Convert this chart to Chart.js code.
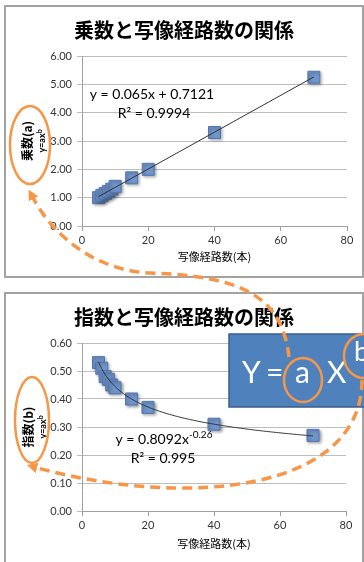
<!DOCTYPE html>
<html>
<head>
<meta charset="utf-8">
<script src="https://cdn.jsdelivr.net/npm/chart.js"></script>
<style>
html, body { margin: 0; padding: 0; background: #fff; }
body { width: 364px; height: 562px; position: relative; overflow: hidden; }
canvas { position: absolute; }
.box { position: absolute; border: 2px solid #a3a3a3; box-sizing: border-box; pointer-events: none; }
#overlay { position: absolute; left: 0; top: 0; }
</style>
</head>
<body>
<canvas id="chartA" width="360" height="273" style="left:4px;top:5px"></canvas>
<div class="box" style="left:4px;top:5px;width:360px;height:273px"></div>
<canvas id="chartB" width="360" height="273" style="left:4px;top:292px"></canvas>
<div class="box" style="left:4px;top:292px;width:360px;height:273px"></div>

<svg id="overlay" width="364" height="562" viewBox="0 0 364 562">
  <defs>
    <marker id="head" viewBox="0 0 10 10" refX="3" refY="5" markerWidth="3" markerHeight="3" orient="auto">
      <path d="M0,0 L10,5 L0,10 z" fill="#f79646"/>
    </marker>
  </defs>
  <!-- formula box -->
  <rect x="229" y="334" width="140" height="73" fill="#4f81bd" stroke="#385d8a" stroke-width="1.5"/>
  <text x="242" y="383" font-family="Lato, sans-serif" font-size="30" fill="#fff">Y</text>
  <text x="266" y="383" font-family="Lato, sans-serif" font-size="30" fill="#fff">=</text>
  <text x="295" y="383" font-family="Lato, sans-serif" font-size="30" fill="#fff">a</text>
  <text x="327" y="383" font-family="Lato, sans-serif" font-size="30" fill="#fff">X</text>
  <text x="354" y="361" font-family="Lato, sans-serif" font-size="27" fill="#fff">b</text>
  <!-- dashed arrows -->
  <path d="M289 357 C282 295 240 276 150 273 C100 271 55 240 32 196" fill="none" stroke="#f79646" stroke-width="3.5" stroke-dasharray="10 6" marker-end="url(#head)"/>
  <path d="M362 380 C362 490 190 510 34 467" fill="none" stroke="#f79646" stroke-width="3.5" stroke-dasharray="10 6" marker-end="url(#head)"/>
  <!-- rings -->
  <ellipse cx="303" cy="380" rx="19" ry="22" fill="none" stroke="#f79646" stroke-width="2.5"/>
  <ellipse cx="364" cy="356" rx="20" ry="22" fill="none" stroke="#f79646" stroke-width="2.5"/>
  <ellipse cx="30" cy="145" rx="20" ry="39" fill="none" stroke="#f79646" stroke-width="2.5"/>
  <ellipse cx="32" cy="420" rx="17" ry="43" fill="none" stroke="#f79646" stroke-width="2.5"/>
</svg>

<script>
// data
const pathCounts = [5, 6, 7, 8, 9, 10, 15, 20, 40, 70];
const multiplierA = [1.00, 1.08, 1.15, 1.22, 1.30, 1.40, 1.70, 2.00, 3.30, 5.25];
const exponentB = [0.53, 0.51, 0.48, 0.47, 0.45, 0.44, 0.40, 0.37, 0.31, 0.27];

const xTicks = [0, 20, 40, 60, 80];
const yTicksA = [0, 1, 2, 3, 4, 5, 6];
const yTicksB = [0, 0.1, 0.2, 0.3, 0.4, 0.5, 0.6];

// trendline coefficients as printed on the chart
const linFit = { slope: 0.065, intercept: 0.7121, r2: '0.9994' };
const powFit = { coef: 0.8092, exp: -0.26, r2: '0.995' };

const JP = '"Noto Sans CJK JP", sans-serif';
const NUM = 'Lato, "Noto Sans", sans-serif';

function linearTrend() {
    const xs = [pathCounts[0], pathCounts[pathCounts.length - 1]];
    return xs.map(x => ({ x: x, y: linFit.slope * x + linFit.intercept }));
}

function powerTrend() {
    let pts = [];
    for (let x = pathCounts[0]; x <= pathCounts[pathCounts.length - 1]; x += 0.5) {
        pts.push({ x: x, y: powFit.coef * Math.pow(x, powFit.exp) });
    }
    return pts;
}

function drawPower(ctx, base, sup, cx, baseline, baseFont, supFont, rise) {
    ctx.font = baseFont;
    const w1 = ctx.measureText(base).width;
    ctx.font = supFont;
    const w2 = ctx.measureText(sup).width;
    const x0 = cx - (w1 + w2) / 2;
    ctx.textAlign = 'left';
    ctx.textBaseline = 'alphabetic';
    ctx.font = baseFont;
    ctx.fillText(base, x0, baseline);
    ctx.font = supFont;
    ctx.fillText(sup, x0 + w1, baseline - rise);
}

function textPlugin(cfg) {
    return {
        id: 'textPlugin',
        afterDraw(chart) {
            const ctx = chart.ctx;
            ctx.save();
            ctx.fillStyle = '#000';
            ctx.textAlign = 'center';
            ctx.textBaseline = 'middle';
            ctx.font = 'bold 20px ' + JP;
            ctx.fillText(cfg.title, 180, 25);

            // y axis title, two lines
            ctx.save();
            ctx.translate(cfg.yTitleX, cfg.yTitleY);
            ctx.rotate(-Math.PI / 2);
            ctx.textAlign = 'center';
            ctx.textBaseline = 'middle';
            ctx.font = 'bold 12px ' + JP;
            ctx.fillText(cfg.yTitle, 0, 0);
            ctx.restore();
            ctx.save();
            ctx.translate(cfg.yTitleX + 15, cfg.yTitleY);
            ctx.rotate(-Math.PI / 2);
            drawPower(ctx, 'y=ax', 'b', 0, 3, 'bold 9px ' + NUM, 'bold 7px ' + NUM, 3.5);
            ctx.restore();

            // trendline label
            ctx.textAlign = 'center';
            ctx.textBaseline = 'alphabetic';
            if (cfg.eqSup) {
                drawPower(ctx, cfg.eq, cfg.eqSup, cfg.eqX, cfg.eqY, '14px ' + NUM, '10px ' + NUM, 6);
            } else {
                ctx.font = '14px ' + NUM;
                ctx.fillText(cfg.eq, cfg.eqX, cfg.eqY);
            }
            ctx.textAlign = 'center';
            ctx.font = '14px ' + NUM;
            ctx.fillText(cfg.r2, cfg.r2X, cfg.r2Y);
            ctx.restore();
        }
    };
}

const shadowPlugin = {
    id: 'shadowPlugin',
    beforeDatasetDraw(chart, args) {
        if (args.index === 1) {
            const ctx = chart.ctx;
            ctx.save();
            ctx.shadowColor = 'rgba(0,0,0,0.35)';
            ctx.shadowBlur = 3;
            ctx.shadowOffsetX = 1.5;
            ctx.shadowOffsetY = 1.5;
        }
    },
    afterDatasetDraw(chart, args) {
        if (args.index === 1) chart.ctx.restore();
    }
};

function makeChart(id, values, trend, yTicks, area, cfg) {
    return new Chart(document.getElementById(id), {
        type: 'scatter',
        data: {
            datasets: [
                {
                    data: trend,
                    showLine: true,
                    borderColor: '#333',
                    borderWidth: 1,
                    pointRadius: 0,
                    order: 0
                },
                {
                    data: pathCounts.map((x, i) => ({ x: x, y: values[i] })),
                    pointStyle: 'rect',
                    pointRadius: 8.5,
                    backgroundColor: '#7095cb',
                    borderColor: '#5376ae',
                    borderWidth: 1,
                    order: 1
                }
            ]
        },
        options: {
            responsive: false,
            animation: false,
            events: [],
            layout: { padding: { left: 0, right: area.right, top: area.top, bottom: 0 } },
            plugins: { legend: { display: false }, tooltip: { enabled: false }, title: { display: false } },
            scales: {
                x: {
                    type: 'linear',
                    min: xTicks[0],
                    max: xTicks[xTicks.length - 1],
                    afterBuildTicks: s => { s.ticks = xTicks.map(v => ({ value: v })); },
                    afterFit: s => { s.height = area.xh; },
                    grid: { drawOnChartArea: false, color: '#a0a0a0', tickLength: 5 },
                    border: { color: '#a0a0a0' },
                    ticks: { font: { family: NUM, size: 11 }, color: '#333', padding: 3, maxRotation: 0, autoSkip: false },
                    title: { display: true, text: '写像経路数(本)', font: { family: JP, size: 11 }, color: '#000', padding: { top: 0, bottom: 15 } }
                },
                y: {
                    type: 'linear',
                    min: yTicks[0],
                    max: yTicks[yTicks.length - 1],
                    afterBuildTicks: s => { s.ticks = yTicks.map(v => ({ value: v })); },
                    afterFit: s => { s.width = area.yw; },
                    grid: { color: '#bdbdbd', tickLength: 5 },
                    border: { color: '#a0a0a0' },
                    ticks: { font: { family: NUM, size: 11 }, color: '#333', padding: 5, autoSkip: false, callback: v => v.toFixed(2) }
                }
            }
        },
        plugins: [textPlugin(cfg), shadowPlugin]
    });
}

makeChart('chartA', multiplierA, linearTrend(), yTicksA,
    { right: 17, top: 51, xh: 52, yw: 78 },
    {
        title: '乗数と写像経路数の関係', yTitle: '乗数(a)', yTitleX: 23, yTitleY: 136,
        eq: 'y = ' + linFit.slope + 'x + ' + linFit.intercept, eqX: 148, eqY: 94,
        r2: 'R² = ' + linFit.r2, r2X: 150, r2Y: 113
    });

makeChart('chartB', exponentB, powerTrend(), yTicksB,
    { right: 18, top: 51, xh: 54, yw: 78 },
    {
        title: '指数と写像経路数の関係', yTitle: '指数(b)', yTitleX: 24, yTitleY: 135,
        eq: 'y = ' + powFit.coef + 'x', eqSup: String(powFit.exp), eqX: 160, eqY: 152,
        r2: 'R² = ' + powFit.r2, r2X: 159, r2Y: 171
    });
</script>
</body>
</html>
